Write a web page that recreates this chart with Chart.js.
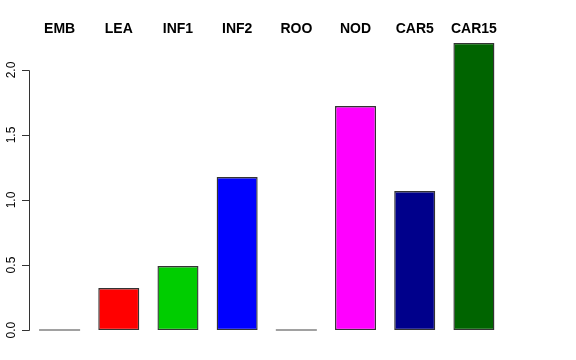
<!DOCTYPE html>
<html>
<head>
<meta charset="utf-8">
<script src="https://cdn.jsdelivr.net/npm/chart.js@4/dist/chart.umd.min.js"></script>
<style>
  html, body { margin: 0; padding: 0; background: #fff; }
  #wrap { width: 576px; height: 360px; }
</style>
</head>
<body>
<div id="wrap"><canvas id="myChart" width="576" height="360"></canvas></div>
<script>
const categories = ['EMB', 'LEA', 'INF1', 'INF2', 'ROO', 'NOD', 'CAR5', 'CAR15'];
const values = [0, 0.323, 0.492, 1.177, 0, 1.723, 1.069, 2.208];
const barColors = ['#444444', '#FF0000', '#00CD00', '#0000FF', '#444444', '#FF00FF', '#00008B', '#006400'];
const yTicks = [0, 0.5, 1, 1.5, 2];
const yTickLabels = ['0.0', '0.5', '1.0', '1.5', '2.0'];

// R style axis on the left, rotated tick labels, names on top
const baseAxes = {
  id: 'baseAxes',
  afterDraw(chart) {
    const ctx = chart.ctx;
    const y = chart.scales.y;
    const x = chart.scales.x;
    const ax = chart.chartArea.left - 1;
    ctx.save();
    ctx.strokeStyle = '#333';
    ctx.lineWidth = 1;
    ctx.beginPath();
    ctx.moveTo(ax + 0.5, Math.round(y.getPixelForValue(yTicks[0])) + 0.5);
    ctx.lineTo(ax + 0.5, Math.round(y.getPixelForValue(yTicks[yTicks.length - 1])) + 0.5);
    yTicks.forEach(v => {
      const py = Math.round(y.getPixelForValue(v)) + 0.5;
      ctx.moveTo(ax + 0.5, py);
      ctx.lineTo(ax - 7, py);
    });
    ctx.stroke();

    ctx.fillStyle = '#000';
    ctx.font = '12px "Liberation Sans", Arial, sans-serif';
    ctx.textAlign = 'center';
    ctx.textBaseline = 'alphabetic';
    yTicks.forEach((v, i) => {
      ctx.save();
      ctx.translate(15, y.getPixelForValue(v));
      ctx.rotate(-Math.PI / 2);
      ctx.fillText(yTickLabels[i], 0, 0);
      ctx.restore();
    });

    ctx.font = 'bold 14px "Liberation Sans", Arial, sans-serif';
    ctx.textBaseline = 'middle';
    categories.forEach((c, i) => {
      ctx.fillText(c, x.getPixelForValue(i), 29);
    });
    ctx.restore();
  }
};

const ctx = document.getElementById('myChart').getContext('2d');
new Chart(ctx, {
  type: 'bar',
  data: {
    labels: categories,
    datasets: [{
      data: values,
      backgroundColor: barColors,
      borderColor: '#333',
      // zero bars are drawn as a plain line
      borderWidth: values.map(v => v === 0 ? 0 : 1.4),
      borderSkipped: false,
      minBarLength: 1,
      barPercentage: 0.693,
      categoryPercentage: 1
    }]
  },
  options: {
    responsive: false,
    animation: false,
    devicePixelRatio: 1,
    layout: { padding: { left: 30, right: 72.5, top: 31.5, bottom: 18.5 } },
    plugins: { legend: { display: false }, tooltip: { enabled: false } },
    scales: {
      x: { display: false },
      y: { display: false, min: -0.088, max: 2.296 }
    }
  },
  plugins: [baseAxes]
});
</script>
</body>
</html>
